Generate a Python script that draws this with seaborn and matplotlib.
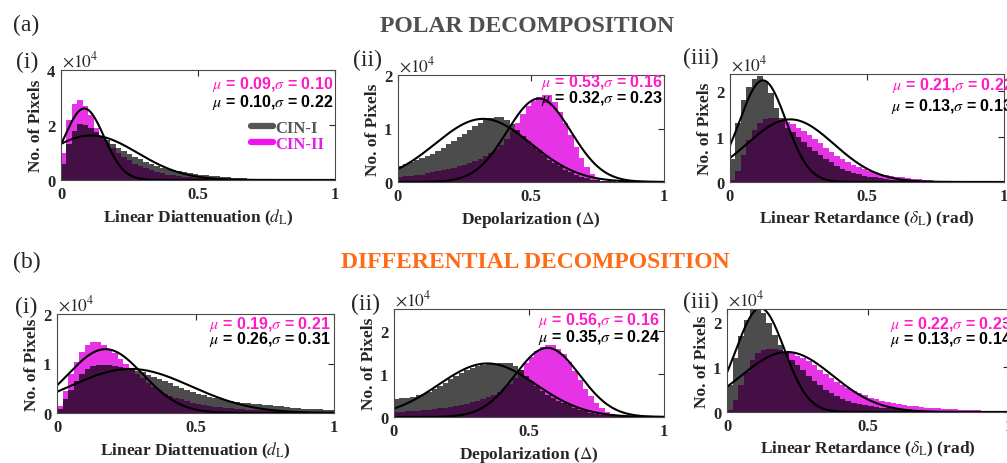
#!/usr/bin/env python3
# -*- coding: utf-8 -*-
# Histogramas CIN-I x CIN-II — decomposição polar (a) e diferencial (b)
# Rodar: python plot.py  (gera out.png)

import numpy as np
import pandas as pd
import matplotlib
matplotlib.use("Agg")
import matplotlib.pyplot as plt
import seaborn as sns
from matplotlib.lines import Line2D

# ## 0. Dados
# Alturas dos histogramas em unidades de 10^4 pixels, 50 bins de largura 0.02 entre 0 e 1.

BORDAS = np.linspace(0, 1, 51)
CENTROS = (BORDAS[:-1] + BORDAS[1:]) / 2

# --- (a) decomposição polar ---
polar_dl_cin1 = [0.6, 1.3, 1.8, 2.05, 2.0, 1.9, 1.75, 1.6, 1.45, 1.3,
                 1.15, 1.05, 0.95, 0.85, 0.75, 0.67, 0.58, 0.5, 0.45, 0.41,
                 0.37, 0.33, 0.3, 0.26, 0.22, 0.19, 0.17, 0.15, 0.13, 0.11,
                 0.1, 0.09, 0.07, 0.06, 0.05, 0.04, 0.03, 0.03, 0.02, 0.02,
                 0.01, 0.01, 0.01, 0.01, 0, 0, 0, 0, 0, 0]
polar_dl_cin2 = [1.0, 2.2, 2.75, 2.9, 2.7, 2.35, 1.9, 1.55, 1.35, 1.15,
                 1.0, 0.85, 0.72, 0.6, 0.5, 0.42, 0.35, 0.29, 0.24, 0.2,
                 0.17, 0.14, 0.12, 0.1, 0.08, 0.07, 0.06, 0.05, 0.04, 0.03,
                 0.02, 0.02, 0.02, 0.02, 0.02, 0.01, 0.01, 0.01, 0, 0,
                 0, 0, 0, 0, 0, 0, 0, 0, 0, 0]

polar_dep_cin1 = [0.3, 0.33, 0.37, 0.41, 0.45, 0.48, 0.52, 0.58, 0.64, 0.71,
                  0.77, 0.84, 0.9, 0.97, 1.04, 1.1, 1.15, 1.19, 1.22, 1.21,
                  1.16, 1.08, 0.97, 0.86, 0.77, 0.68, 0.59, 0.5, 0.42, 0.35,
                  0.29, 0.23, 0.18, 0.13, 0.09, 0.07, 0.04, 0.03, 0.02, 0.01,
                  0.01, 0, 0, 0, 0, 0, 0, 0, 0, 0]
polar_dep_cin2 = [0.1, 0.11, 0.12, 0.13, 0.14, 0.16, 0.18, 0.2, 0.22, 0.24,
                  0.26, 0.29, 0.32, 0.35, 0.39, 0.43, 0.48, 0.54, 0.61, 0.7,
                  0.8, 0.95, 1.1, 1.28, 1.42, 1.52, 1.58, 1.63, 1.62, 1.5,
                  1.3, 1.1, 0.88, 0.66, 0.45, 0.28, 0.15, 0.06, 0.02, 0.01,
                  0, 0, 0, 0, 0, 0, 0, 0, 0, 0]

polar_ret_cin1 = [0.5, 1.3, 1.8, 2.1, 2.28, 2.33, 2.22, 1.96, 1.63, 1.41,
                  1.2, 1.1, 1.0, 0.88, 0.78, 0.68, 0.59, 0.5, 0.43, 0.35,
                  0.29, 0.24, 0.2, 0.17, 0.14, 0.12, 0.1, 0.08, 0.07, 0.05,
                  0.05, 0.04, 0.03, 0.03, 0.02, 0.02, 0.01, 0.01, 0.01, 0.01,
                  0, 0, 0, 0, 0, 0, 0, 0, 0, 0]
polar_ret_cin2 = [0.05, 0.25, 0.6, 0.92, 1.15, 1.3, 1.38, 1.41, 1.4, 1.37,
                  1.33, 1.27, 1.2, 1.12, 1.03, 0.94, 0.85, 0.75, 0.66, 0.57,
                  0.5, 0.44, 0.38, 0.33, 0.28, 0.24, 0.21, 0.18, 0.16, 0.13,
                  0.12, 0.1, 0.09, 0.07, 0.06, 0.05, 0.04, 0.03, 0.03, 0.02,
                  0.02, 0.01, 0.01, 0.01, 0, 0, 0, 0, 0, 0]

# --- (b) decomposição diferencial ---
dif_dl_cin1 = [0.08, 0.28, 0.46, 0.65, 0.79, 0.89, 0.95, 0.97, 0.97, 0.97,
               0.95, 0.93, 0.91, 0.88, 0.85, 0.82, 0.77, 0.73, 0.68, 0.64,
               0.6, 0.55, 0.5, 0.46, 0.42, 0.39, 0.36, 0.33, 0.31, 0.29,
               0.27, 0.25, 0.23, 0.21, 0.2, 0.19, 0.18, 0.17, 0.16, 0.15,
               0.14, 0.12, 0.11, 0.1, 0.09, 0.09, 0.08, 0.08, 0.07, 0.07]
dif_dl_cin2 = [0.15, 0.45, 0.78, 1.03, 1.24, 1.37, 1.43, 1.43, 1.38, 1.3,
               1.21, 1.1, 0.98, 0.87, 0.78, 0.7, 0.61, 0.53, 0.46, 0.39,
               0.35, 0.31, 0.28, 0.25, 0.21, 0.19, 0.17, 0.15, 0.13, 0.12,
               0.11, 0.1, 0.09, 0.08, 0.07, 0.07, 0.06, 0.06, 0.05, 0.05,
               0.05, 0.04, 0.04, 0.04, 0.03, 0.03, 0.03, 0.02, 0.02, 0.02]

dif_dep_cin1 = [0.42, 0.43, 0.45, 0.47, 0.5, 0.53, 0.58, 0.64, 0.71, 0.79,
                0.87, 0.95, 1.02, 1.08, 1.13, 1.17, 1.2, 1.22, 1.23, 1.25,
                1.25, 1.24, 1.18, 1.08, 0.95, 0.83, 0.71, 0.6, 0.52, 0.45,
                0.38, 0.32, 0.27, 0.21, 0.17, 0.13, 0.1, 0.08, 0.05, 0.04,
                0.03, 0.02, 0.02, 0.01, 0.01, 0, 0, 0, 0, 0]
dif_dep_cin2 = [0.12, 0.12, 0.13, 0.14, 0.15, 0.16, 0.17, 0.18, 0.2, 0.21,
                0.23, 0.25, 0.28, 0.31, 0.34, 0.38, 0.42, 0.46, 0.52, 0.59,
                0.67, 0.77, 0.9, 1.08, 1.25, 1.4, 1.53, 1.62, 1.67, 1.67,
                1.58, 1.45, 1.27, 1.06, 0.85, 0.65, 0.48, 0.33, 0.2, 0.11,
                0.06, 0.03, 0.02, 0.01, 0, 0, 0, 0, 0, 0]

dif_ret_cin1 = [0.6, 1.2, 1.7, 2.05, 2.27, 2.32, 2.22, 1.98, 1.73, 1.5,
                1.32, 1.17, 1.06, 0.93, 0.8, 0.7, 0.6, 0.5, 0.42, 0.35,
                0.3, 0.25, 0.21, 0.18, 0.15, 0.13, 0.11, 0.1, 0.08, 0.07,
                0.06, 0.05, 0.05, 0.04, 0.03, 0.03, 0.02, 0.02, 0.02, 0.01,
                0.01, 0.01, 0.01, 0.01, 0.01, 0, 0, 0, 0, 0]
dif_ret_cin2 = [0.05, 0.26, 0.6, 0.9, 1.17, 1.32, 1.38, 1.4, 1.4, 1.38,
                1.35, 1.32, 1.26, 1.2, 1.13, 1.05, 0.94, 0.85, 0.77, 0.68,
                0.6, 0.54, 0.48, 0.42, 0.37, 0.32, 0.28, 0.25, 0.22, 0.2,
                0.18, 0.16, 0.14, 0.13, 0.11, 0.1, 0.09, 0.08, 0.07, 0.07,
                0.06, 0.05, 0.05, 0.04, 0.04, 0.03, 0.03, 0.03, 0.02, 0.02]

# Curvas de ajuste normal (mu, sigma, pico) — CIN-I, CIN-II
polar_ajustes = [[(0.11, 0.17, 1.62), (0.085, 0.072, 2.6)],
                 [(0.32, 0.18, 1.18), (0.53, 0.12, 1.56)],
                 [(0.12, 0.084, 2.24), (0.22, 0.159, 1.38)]]
dif_ajustes = [[(0.265, 0.219, 0.89), (0.175, 0.135, 1.29)],
               [(0.346, 0.18, 1.24), (0.568, 0.12, 1.6)],
               [(0.118, 0.085, 2.32), (0.213, 0.162, 1.34)]]

# Estatísticas anotadas em cada painel
polar_mu_cin2 = [0.09, 0.53, 0.21]
polar_sd_cin2 = [0.10, 0.16, 0.22]
polar_mu_cin1 = [0.10, 0.32, 0.13]
polar_sd_cin1 = [0.22, 0.23, 0.13]
dif_mu_cin2 = [0.19, 0.56, 0.22]
dif_sd_cin2 = [0.21, 0.16, 0.23]
dif_mu_cin1 = [0.26, 0.35, 0.13]
dif_sd_cin1 = [0.31, 0.24, 0.14]

XLABELS = [r"Linear Diattenuation ($d_{\mathrm{L}}$)",
           r"Depolarization ($\Delta$)",
           r"Linear Retardance ($\delta_{\mathrm{L}}$) (rad)"]
YLIMS_POLAR = [4, 2, 2.38]
YLIMS_DIF = [2, 2.5, 2.3]

# ## 1. Layout (pixels da figura 1007x464)

W, H = 1007, 464
EIXOS_POLAR = [(61, 71, 335, 181), (398, 76, 664, 183), (730, 75, 1004, 183)]
EIXOS_DIF = [(57, 315, 334, 414), (394, 310, 664, 418), (727, 310, 1009, 413)]
# (x direita, y linha 1, y linha 2) das anotações mu/sigma
TEXTOS_POLAR = [(333, 85, 103), (663, 83, 99), (1013, 86, 106)]
TEXTOS_DIF = [(331, 324, 340), (660, 320, 338), (1012, 324, 340)]
ROTULOS_POLAR = [(27, 62), (367, 60), (701, 58)]
ROTULOS_DIF = [(26, 307), (366, 304), (701, 302)]

MAGENTA = "#E000E0"
MAGENTA_TXT = "#FF1CC8"
CINZA = "#555555"

sns.set_theme(style="white")
plt.rcParams["font.family"] = ["Liberation Serif", "DejaVu Serif"]
plt.rcParams["mathtext.fontset"] = "stix"


def fx(px):
    return px / W


def fy(py):
    return 1 - py / H


def desenhar_painel(fig, caixa, cin1, cin2, ajustes, ylim, xlabel, yticks):
    esq, topo, dir_, base = caixa
    ax = fig.add_axes([fx(esq), fy(base), (dir_ - esq) / W, (base - topo) / H])

    tabela = pd.DataFrame({"valor": CENTROS, "cin1": cin1, "cin2": cin2})
    bins = list(BORDAS)
    sns.histplot(data=tabela, x="valor", weights="cin2", bins=bins, color=MAGENTA,
                 alpha=0.8, linewidth=0, ax=ax)
    sns.histplot(data=tabela, x="valor", weights="cin1", bins=bins, color="black",
                 alpha=0.7, linewidth=0, ax=ax)

    xs = np.linspace(0, 1, 400)
    for mu, sd, pico in ajustes:
        sns.lineplot(x=xs, y=pico * np.exp(-(xs - mu) ** 2 / (2 * sd ** 2)),
                     color="black", linewidth=1.5, ax=ax)

    ax.set_xlim(0, 1)
    ax.set_ylim(0, ylim)
    ax.set_xticks([0, 0.5, 1], labels=["0", "0.5", "1"], fontweight="bold", fontsize=12)
    ax.set_yticks(yticks, labels=[str(t) for t in yticks], fontweight="bold", fontsize=12)
    ax.tick_params(direction="in", top=True, right=True, length=4, width=0.8,
                   pad=4, colors="#262626")
    for sp in ax.spines.values():
        sp.set_color("#4a4a4a")
        sp.set_linewidth(0.8)
    ax.set_xlabel(xlabel, fontweight="bold", fontsize=12.5, labelpad=4)
    ax.set_ylabel("No. of Pixels", fontweight="bold", fontsize=12.5, labelpad=2)
    ax.text(0.005, 1.0, r"$\times10^{4}$", transform=ax.transAxes,
            ha="left", va="bottom", fontsize=12.5, color="#262626")
    return ax


def anotar(fig, pos, mu2, sd2, mu1, sd1):
    xr, y1, y2 = pos
    fig.text(fx(xr), fy(y1), rf"$\mu$ = {mu2:.2f},$\sigma$ = {sd2:.2f}",
             family="Liberation Sans", fontweight="bold", fontsize=11.5,
             color=MAGENTA_TXT, ha="right", va="center")
    fig.text(fx(xr), fy(y2), rf"$\mu$ = {mu1:.2f},$\sigma$ = {sd1:.2f}",
             family="Liberation Sans", fontweight="bold", fontsize=11.5,
             color="black", ha="right", va="center")


fig = plt.figure(figsize=(W / 100, H / 100), dpi=100)

polar_cin1 = [polar_dl_cin1, polar_dep_cin1, polar_ret_cin1]
polar_cin2 = [polar_dl_cin2, polar_dep_cin2, polar_ret_cin2]
dif_cin1 = [dif_dl_cin1, dif_dep_cin1, dif_ret_cin1]
dif_cin2 = [dif_dl_cin2, dif_dep_cin2, dif_ret_cin2]
numerais = ["(i)", "(ii)", "(iii)"]

eixos_polar = []
for k in range(3):
    yt = [0, 2, 4] if YLIMS_POLAR[k] > 3 else [0, 1, 2]
    ax = desenhar_painel(fig, EIXOS_POLAR[k], polar_cin1[k], polar_cin2[k],
                         polar_ajustes[k], YLIMS_POLAR[k], XLABELS[k], yt)
    eixos_polar.append(ax)
    anotar(fig, TEXTOS_POLAR[k], polar_mu_cin2[k], polar_sd_cin2[k],
           polar_mu_cin1[k], polar_sd_cin1[k])
    fig.text(fx(ROTULOS_POLAR[k][0]), fy(ROTULOS_POLAR[k][1]), numerais[k],
             fontsize=17, ha="center", va="center")

for k in range(3):
    desenhar_painel(fig, EIXOS_DIF[k], dif_cin1[k], dif_cin2[k],
                    dif_ajustes[k], YLIMS_DIF[k], XLABELS[k], [0, 1, 2])
    anotar(fig, TEXTOS_DIF[k], dif_mu_cin2[k], dif_sd_cin2[k],
           dif_mu_cin1[k], dif_sd_cin1[k])
    fig.text(fx(ROTULOS_DIF[k][0]), fy(ROTULOS_DIF[k][1]), numerais[k],
             fontsize=17, ha="center", va="center")

# Legenda só no primeiro painel
alcas = [Line2D([0], [0], color=CINZA, linewidth=4.5),
         Line2D([0], [0], color="#F010F0", linewidth=4.5)]
leg = eixos_polar[0].legend(alcas, ["CIN-I", "CIN-II"], loc="upper left",
                            bbox_to_anchor=(0.662, 0.625), frameon=False, borderpad=0,
                            handlelength=1.35, handletextpad=0.1, labelspacing=0.0,
                            prop={"family": "Liberation Serif", "weight": "bold", "size": 12})
leg.get_texts()[0].set_color(CINZA)
leg.get_texts()[1].set_color("#E41EE4")

# Títulos e letras dos blocos
fig.text(fx(26), fy(25), "(a)", fontsize=17, ha="center", va="center")
fig.text(fx(27), fy(262), "(b)", fontsize=17, ha="center", va="center")
fig.text(fx(527), fy(27), "POLAR DECOMPOSITION", fontsize=17, fontweight="bold",
         color="#4F4F4F", ha="center", va="center")
fig.text(fx(535), fy(262), "DIFFERENTIAL DECOMPOSITION", fontsize=17, fontweight="bold",
         color="#FF6B17", ha="center", va="center")

fig.savefig("out.png", dpi=100)
